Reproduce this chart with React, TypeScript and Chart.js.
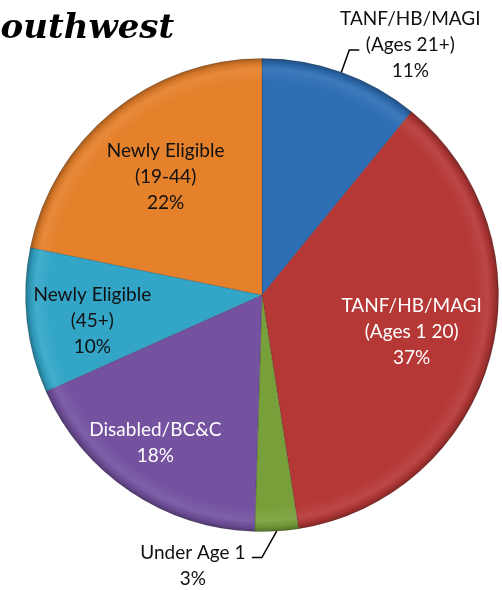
import React, { useEffect, useRef } from 'react';
import { Chart, registerables } from 'chart.js';

Chart.register(...registerables);

const categories = [
  'TANF/HB/MAGI\n(Ages 21+)',
  'TANF/HB/MAGI\n(Ages 1 20)',
  'Under Age 1',
  'Disabled/BC&C',
  'Newly Eligible\n(45+)',
  'Newly Eligible\n(19-44)',
];
const shares = [11, 37, 3, 18, 10, 22];
const sliceColors = ['#2E6EB5', '#B53836', '#78A03A', '#7452A0', '#33A6C8', '#E5802B'];
const labelColors = ['#111', '#fff', '#111', '#fff', '#111', '#111'];

// label placement (style, not data): radial factor, angle shift (deg), outside leader settings
const placement = [
  { outside: true, r: 1.1, shift: 0, hook: 10, dx: 51, dy: -5 },
  { outside: false, r: 0.652, shift: -1.2 },
  { outside: true, r: 1.11, shift: 3.6, hook: -10, dx: -59, dy: 8 },
  { outside: false, r: 0.77, shift: 2 },
  { outside: false, r: 0.726, shift: -2.5 },
  { outside: false, r: 0.645, shift: 0 },
];

const DEG = Math.PI / 180;
const FONT = '19px Lato, "Noto Sans", sans-serif';
const LINE_H = 26;

const bevelPlugin = {
  id: 'bevel',
  afterDatasetsDraw(chart: any) {
    const ctx = chart.ctx;
    const meta = chart.getDatasetMeta(0);
    meta.data.forEach((arc: any) => {
      const { x, y, startAngle, endAngle, outerRadius } = arc.getProps(
        ['x', 'y', 'startAngle', 'endAngle', 'outerRadius'],
        true
      );
      ctx.save();
      ctx.beginPath();
      ctx.moveTo(x, y);
      ctx.arc(x, y, outerRadius, startAngle, endAngle);
      ctx.closePath();
      ctx.clip();
      const g = ctx.createRadialGradient(x, y, outerRadius * 0.9, x, y, outerRadius);
      g.addColorStop(0, 'rgba(255,255,255,0)');
      g.addColorStop(0.55, 'rgba(255,255,255,0.08)');
      g.addColorStop(0.8, 'rgba(0,0,0,0.08)');
      g.addColorStop(1, 'rgba(0,0,0,0.3)');
      ctx.fillStyle = g;
      ctx.fillRect(x - outerRadius, y - outerRadius, outerRadius * 2, outerRadius * 2);
      ctx.restore();
    });
  },
};

const labelPlugin = {
  id: 'sliceLabels',
  afterDatasetsDraw(chart: any) {
    const ctx = chart.ctx;
    const meta = chart.getDatasetMeta(0);
    meta.data.forEach((arc: any, i: number) => {
      const { x, y, startAngle, endAngle, outerRadius } = arc.getProps(
        ['x', 'y', 'startAngle', 'endAngle', 'outerRadius'],
        true
      );
      const R = outerRadius;
      const mid = (startAngle + endAngle) / 2;
      const p: any = placement[i];
      const lines = [...categories[i].split('\n'), shares[i] + '%'];
      let cx: number, cy: number;
      ctx.save();
      if (p.outside) {
        const ex = x + Math.cos(mid) * R;
        const ey = y + Math.sin(mid) * R;
        const a2 = mid + p.shift * DEG;
        const elx = x + Math.cos(a2) * R * p.r;
        const ely = y + Math.sin(a2) * R * p.r;
        ctx.strokeStyle = '#000';
        ctx.lineWidth = 1.5;
        ctx.beginPath();
        ctx.moveTo(ex, ey);
        ctx.lineTo(elx, ely);
        ctx.lineTo(elx + p.hook, ely);
        ctx.stroke();
        cx = elx + p.hook + p.dx;
        cy = ely + p.dy;
      } else {
        const a2 = mid + p.shift * DEG;
        cx = x + Math.cos(a2) * R * p.r;
        cy = y + Math.sin(a2) * R * p.r;
      }
      ctx.font = FONT;
      ctx.fillStyle = labelColors[i];
      ctx.textAlign = 'center';
      ctx.textBaseline = 'middle';
      const top = cy - ((lines.length - 1) * LINE_H) / 2;
      lines.forEach((ln, k) => ctx.fillText(ln, cx, top + k * LINE_H));
      ctx.restore();
    });
  },
};

export default function App() {
  const ref = useRef<HTMLCanvasElement>(null);
  useEffect(() => {
    if (!ref.current) return;
    const chart = new Chart(ref.current, {
      type: 'pie',
      data: {
        labels: categories,
        datasets: [
          {
            data: shares,
            backgroundColor: sliceColors,
            borderColor: 'rgba(0,0,0,0.18)',
            borderWidth: 1,
          },
        ],
      },
      options: {
        responsive: false,
        animation: false,
        layout: { padding: { left: 25, right: 3, top: 58, bottom: 58 } },
        plugins: {
          legend: { display: false },
          tooltip: { enabled: false },
          title: { display: false },
        },
      },
      plugins: [bevelPlugin, labelPlugin],
    });
    return () => chart.destroy();
  }, []);
  return (
    <div
      style={{
        position: 'absolute',
        left: 0,
        top: 0,
        width: 502,
        height: 590,
        overflow: 'hidden',
        background: '#fff',
      }}
    >
      <canvas ref={ref} width={502} height={590} style={{ position: 'absolute', left: 0, top: 0 }} />
      <div
        style={{
          position: 'absolute',
          left: -24,
          top: 6,
          fontFamily: '"DejaVu Serif", serif',
          fontWeight: 'bold',
          fontStyle: 'italic',
          fontSize: 34,
          lineHeight: '40px',
          color: '#000',
          whiteSpace: 'nowrap',
        }}
      >
        Southwest
      </div>
    </div>
  );
}
